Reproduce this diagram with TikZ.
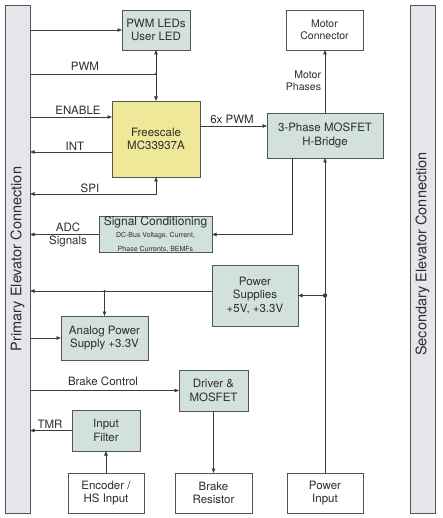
\documentclass[tikz,border=0pt]{standalone}
\usepackage{fontspec}
\setmainfont{TeX Gyre Heros}
\usetikzlibrary{arrows.meta}
\definecolor{boxg}{RGB}{210,225,221}
\definecolor{yel}{RGB}{238,232,152}
\definecolor{barc}{RGB}{229,230,235}
\definecolor{bordc}{RGB}{85,85,85}
\definecolor{linec}{RGB}{60,60,60}
\definecolor{txt}{RGB}{45,45,45}
\begin{document}
\begin{tikzpicture}[x=1pt,y=-1pt,
  every node/.style={text=txt, font=\fontsize{11.5}{13.5}\selectfont},
  box/.style={draw=bordc, line width=0.8pt, fill=boxg, inner sep=0pt, outer sep=0pt, align=center},
  wbox/.style={box, fill=white},
  ybox/.style={box, fill=yel},
  barbox/.style={draw=bordc, line width=0.8pt, fill=barc, inner sep=0pt, outer sep=0pt},
  ln/.style={draw=linec, line width=0.8pt},
  arr/.style={ln, -{Triangle[length=4.5pt,width=3.5pt]}},
  darr/.style={ln, {Triangle[length=4.5pt,width=3.5pt]}-{Triangle[length=4.5pt,width=3.5pt]}},
  lbl/.style={inner sep=0pt, outer sep=0pt},
  small/.style={font=\fontsize{10.5}{12.5}\selectfont}
]
\useasboundingbox (0,0) rectangle (442,518);

% bars
\node[barbox, minimum width=25pt, minimum height=508pt] (prim) at (17.5,259) {};
\node[barbox, minimum width=25pt, minimum height=508pt] (sec) at (422.5,259) {};
\node[lbl, rotate=90, font=\fontsize{14.5}{16}\selectfont] (primlbl) at (17.5,259) {Primary Elevator Connection};
\node[lbl, rotate=90, font=\fontsize{14.5}{16}\selectfont] (seclbl) at (422.5,254) {Secondary Elevator Connection};

% boxes
\node[box, minimum width=68pt, minimum height=40pt] (pwmled) at (156,30) {PWM LEDs\\User LED};
\node[wbox, small, minimum width=77pt, minimum height=40pt] (motor) at (324.5,30) {Motor\\Connector};
\node[ybox, minimum width=88pt, minimum height=76pt] (fs) at (156,139) {Freescale\\MC33937A};
\node[box, minimum width=116pt, minimum height=45pt] (hb) at (325,135.5) {3-Phase MOSFET\\H-Bridge};
\node[box, minimum width=113pt, minimum height=35pt] (sig) at (155.5,234.5)
  {\fontsize{12}{12.5}\selectfont Signal Conditioning\\[-1pt]
   \fontsize{7}{8}\selectfont DC-Bus Voltage, Current,\\
   \fontsize{7}{8}\selectfont Phase Currents, BEMFs};
\node[box, minimum width=86pt, minimum height=61pt] (ps) at (255,295.5) {Power\\Supplies\\+5V, +3.3V};
\node[box, minimum width=87pt, minimum height=44pt] (an) at (104.5,338) {Analog Power\\Supply +3.3V};
\node[box, minimum width=69pt, minimum height=41pt] (drv) at (213.5,390.5) {Driver \&\\MOSFET};
\node[box, minimum width=68pt, minimum height=41pt] (inf) at (106,430.5) {Input\\Filter};
\node[wbox, minimum width=76pt, minimum height=40pt] (enc) at (106,493) {Encoder /\\HS Input};
\node[wbox, minimum width=77pt, minimum height=40pt] (br) at (213.5,493) {Brake\\Resistor};
\node[wbox, minimum width=76pt, minimum height=40pt] (pin) at (325,493) {Power\\Input};

% helper coordinates
\coordinate (jpwm) at (156,74);
\coordinate (yen) at (0,117);
\coordinate (yint) at (0,152);
\coordinate (yspi) at (0,194);
\coordinate (y6) at (0,126);
\coordinate (xhb) at (292,0);
\coordinate (ypsl) at (0,291);

% connectors
\draw[arr] (prim.east |- pwmled.west) -- (pwmled.west);
\draw[ln] (prim.east |- jpwm) -- (jpwm);
\fill[linec] (jpwm) circle (1.2pt);
\draw[darr] (pwmled.south) -- (fs.north);
\draw[arr] (prim.east |- yen) -- (fs.west |- yen);
\draw[arr] (fs.west |- yint) -- (prim.east |- yint);
\draw[darr] (prim.east |- yspi) -| (fs.south);
\draw[arr] (fs.east |- y6) -- (hb.west |- y6);
\draw[arr] (hb.north) -- (hb.north |- motor.south);
\draw[arr] (xhb |- hb.south) |- (sig.east);
\draw[arr] (sig.west) -- (prim.east |- sig.west);
\draw[arr] (pin.north) -- (pin.north |- hb.south);
\draw[arr] (pin.north |- ps.east) -- (ps.east);
\fill[linec] (pin.north |- ps.east) circle (2.2pt);
\draw[arr] (ps.west |- ypsl) -- (prim.east |- ypsl);
\draw[arr] (an.north |- ypsl) -- (an.north);
\fill[linec] (an.north |- ypsl) circle (1.2pt);
\draw[arr] (prim.east |- an.west) -- (an.west);
\draw[arr] (prim.east |- drv.west) -- (drv.west);
\draw[arr] (drv.south) -- (br.north);
\draw[arr] (inf.west) -- (prim.east |- inf.west);
\draw[arr] (enc.north) -- (inf.south);

% labels
\node[lbl] (lpwm) at (85,66) {PWM};
\node[lbl] (len) at (78,110) {ENABLE};
\node[lbl] (lint) at (75,146) {INT};
\node[lbl] (lspi) at (90,188) {SPI};
\node[lbl] (l6) at (232,119) {6x PWM};
\node[lbl, small, align=right, anchor=east] (lmp) at (321,81) {Motor\\Phases};
\node[lbl, align=center] (ladc) at (68,235) {ADC\\Signals};
\node[lbl] (lbc) at (103,381) {Brake Control};
\node[lbl] (ltmr) at (50,424) {TMR};
\end{tikzpicture}
\end{document}
